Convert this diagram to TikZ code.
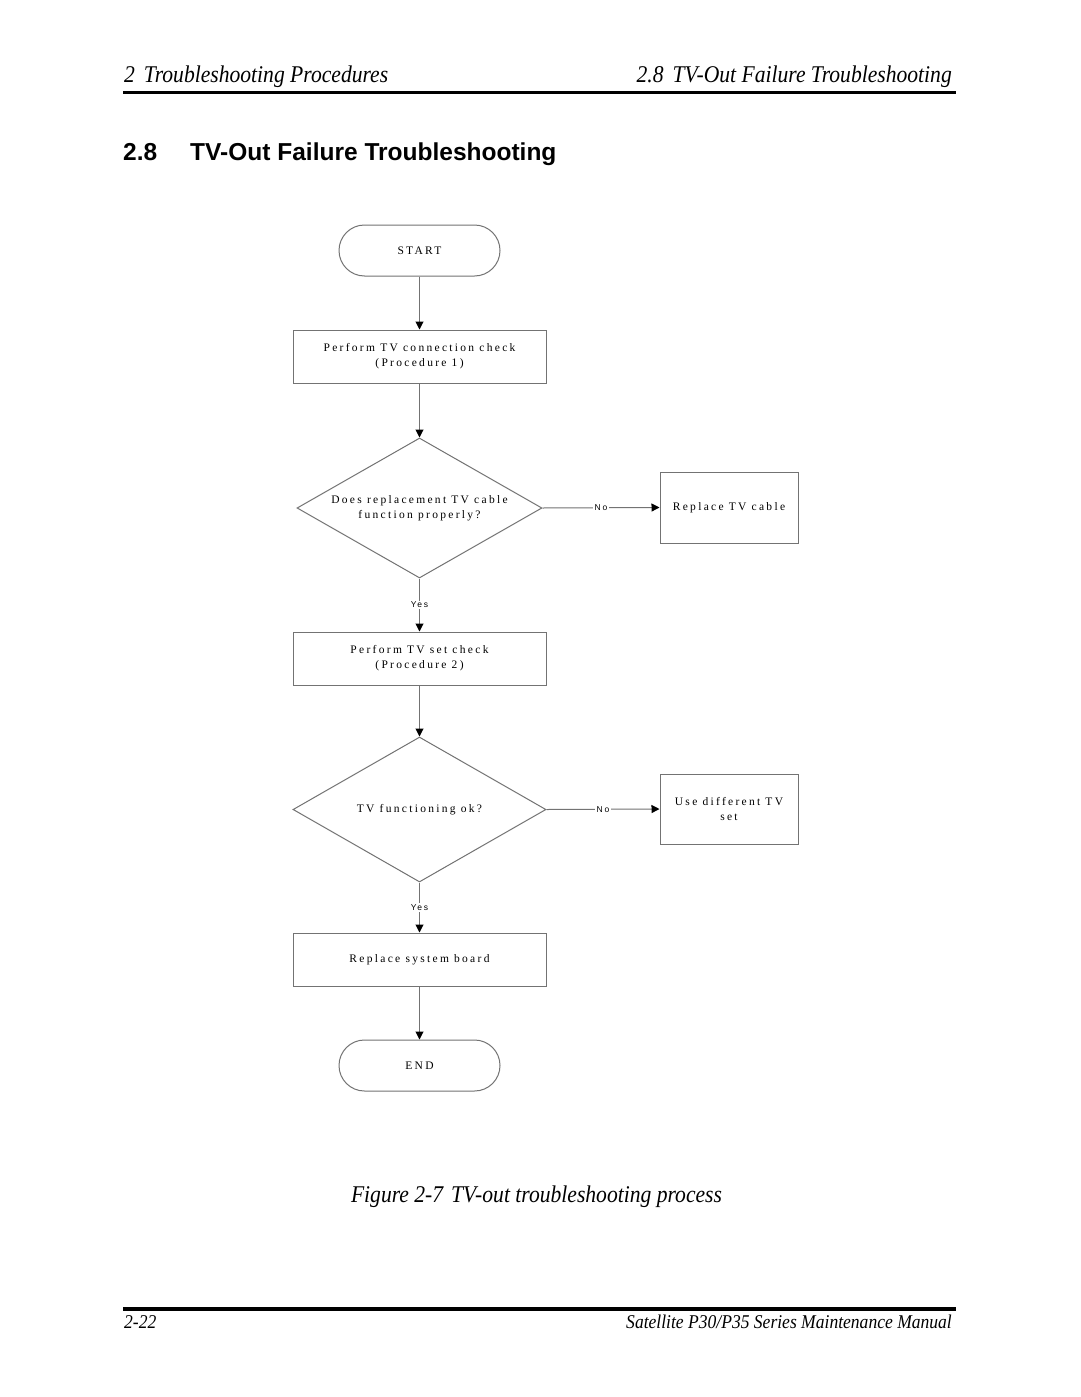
\documentclass[tikz,border=0pt]{standalone}
\usepackage{fontspec}
\setmainfont{Liberation Serif}
\newfontfamily\hdrfont[FakeStretch=0.9]{Liberation Serif}
\newfontfamily\flowfont[LetterSpace=20]{Liberation Serif}
\newfontfamily\lblfont[LetterSpace=20]{Liberation Sans}
\newfontfamily\titlefont{Liberation Sans}
\usetikzlibrary{arrows.meta,shapes.geometric,shapes.misc}
\definecolor{fg}{gray}{0.45}
\tikzset{
  flowtext/.style={font=\flowfont\fontsize{11.5}{15}\selectfont, align=center, text=black},
  procbox/.style={flowtext, draw=fg, line width=1pt, rectangle, inner sep=0pt},
  termbox/.style={flowtext, draw=fg, line width=1pt, rounded rectangle, minimum width=161pt, minimum height=51pt, inner sep=0pt},
  decbox/.style={flowtext, draw=fg, line width=1pt, diamond, aspect=1.75, inner sep=0pt},
  conn/.style={draw=fg, line width=1pt, -{Triangle[length=8pt,width=8pt,black]}},
  lbl/.style={font=\lblfont\fontsize{8.5}{10}\selectfont, fill=white, inner sep=1.5pt, text=black},
  hdr/.style={font=\hdrfont\itshape\fontsize{24}{28}\selectfont, inner sep=0pt},
  foot/.style={font=\hdrfont\itshape\fontsize{19.5}{22}\selectfont, inner sep=0pt},
}
\begin{document}
\begin{tikzpicture}[x=1pt,y=-1pt]
\useasboundingbox (0,0) rectangle (1080,1397);
\fill[white] (0,0) rectangle (1080,1397);

% header
\node[hdr, anchor=base west] (hl) at (124,82) {2\hspace{9pt}Troubleshooting Procedures};
\node[hdr, anchor=base east] (hr) at (952,82) {2.8\hspace{9pt}TV-Out Failure Troubleshooting};
\draw[line width=3.5pt] (123,92.5) -- (956,92.5);

% title
\node[font=\titlefont\bfseries\fontsize{24.5}{28}\selectfont, inner sep=0pt, anchor=base west] (title) at (123,160) {2.8\hspace{33pt}TV-Out Failure Troubleshooting};

% flowchart
\node[termbox] (start) at (419.5,250.5) {START};
\node[procbox, minimum width=253pt, minimum height=53pt] (p1) at (419.5,356.5) {Perform TV connection check\\(Procedure 1)};
\node[decbox, minimum width=245pt, minimum height=140pt] (d1) at (419.5,508) {Does replacement TV cable\\function properly?};
\node[procbox, minimum width=138pt, minimum height=71pt] (r1) at (729,507.5) {Replace TV cable};
\node[procbox, minimum width=253pt, minimum height=53pt] (p2) at (419.5,658.5) {Perform TV set check\\(Procedure 2)};
\node[decbox, minimum width=253pt, minimum height=145pt] (d2) at (419.5,809.5) {TV functioning ok?};
\node[procbox, minimum width=138pt, minimum height=70pt] (r2) at (729,809) {Use different TV\\set};
\node[procbox, minimum width=253pt, minimum height=53pt] (p3) at (419.5,959.5) {Replace system board};
\node[termbox] (end) at (419.5,1065.5) {END};

\draw[conn] (start) -- (p1);
\draw[conn] (p1) -- (d1.north);
\draw[conn] (d1.east) -- node[lbl] {No} (r1.west);
\draw[conn] (d1.south) -- node[lbl] {Yes} (p2);
\draw[conn] (p2) -- (d2.north);
\draw[conn] (d2.east) -- node[lbl] {No} (r2.west);
\draw[conn] (d2.south) -- node[lbl] {Yes} (p3);
\draw[conn] (p3) -- (end);

% caption
\node[font=\hdrfont\itshape\fontsize{24}{28}\selectfont, inner sep=0pt, anchor=base] (cap) at (536.5,1202) {Figure 2-7\hspace{8pt}TV-out troubleshooting process};

% footer
\draw[line width=3.5pt] (123,1309) -- (956,1309);
\node[foot, anchor=base west] (fl) at (124,1328) {2-22};
\node[foot, anchor=base east] (fr) at (952,1328) {Satellite P30/P35 Series Maintenance Manual};
\end{tikzpicture}
\end{document}
